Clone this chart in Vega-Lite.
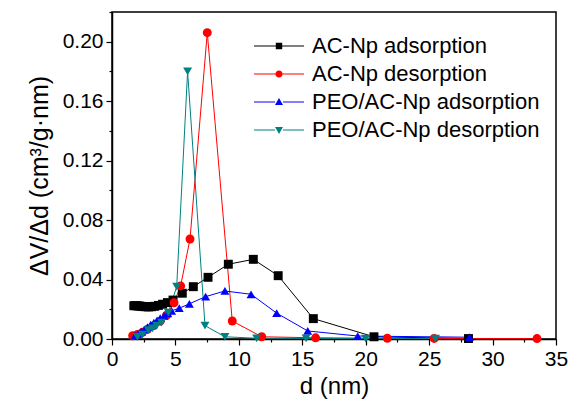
{
  "$schema": "https://vega.github.io/schema/vega-lite/v6.json",
  "width": 444,
  "height": 327,
  "autosize": "none",
  "padding": {"left": 112, "top": 12, "right": 13, "bottom": 68},
  "config": {
    "font": "Liberation Sans",
    "view": {"stroke": "#000000", "strokeWidth": 1.5},
    "axis": {"grid": false, "domainColor": "#000000", "domainWidth": 1.5, "tickColor": "#000000", "tickWidth": 1.2, "labelColor": "#000000", "titleColor": "#000000", "labelFont": "Liberation Sans", "titleFont": "Liberation Sans", "titleFontWeight": "normal"}
  },
  "data": {"values": [
    {"series": "AC-Np adsorption", "d": 1.72, "v": 0.0224},
    {"series": "AC-Np adsorption", "d": 1.86, "v": 0.0224},
    {"series": "AC-Np adsorption", "d": 2.0, "v": 0.0223},
    {"series": "AC-Np adsorption", "d": 2.15, "v": 0.0222},
    {"series": "AC-Np adsorption", "d": 2.31, "v": 0.022},
    {"series": "AC-Np adsorption", "d": 2.48, "v": 0.0218},
    {"series": "AC-Np adsorption", "d": 2.67, "v": 0.0217},
    {"series": "AC-Np adsorption", "d": 2.88, "v": 0.0216},
    {"series": "AC-Np adsorption", "d": 3.11, "v": 0.0217},
    {"series": "AC-Np adsorption", "d": 3.37, "v": 0.022},
    {"series": "AC-Np adsorption", "d": 3.66, "v": 0.0226},
    {"series": "AC-Np adsorption", "d": 3.99, "v": 0.0234},
    {"series": "AC-Np adsorption", "d": 4.37, "v": 0.0245},
    {"series": "AC-Np adsorption", "d": 4.81, "v": 0.0262},
    {"series": "AC-Np adsorption", "d": 5.54, "v": 0.0308},
    {"series": "AC-Np adsorption", "d": 6.41, "v": 0.0352},
    {"series": "AC-Np adsorption", "d": 7.57, "v": 0.0415},
    {"series": "AC-Np adsorption", "d": 9.17, "v": 0.0503},
    {"series": "AC-Np adsorption", "d": 11.14, "v": 0.0536},
    {"series": "AC-Np adsorption", "d": 13.1, "v": 0.0426},
    {"series": "AC-Np adsorption", "d": 15.87, "v": 0.0137},
    {"series": "AC-Np adsorption", "d": 20.65, "v": 0.0015},
    {"series": "AC-Np adsorption", "d": 28.1, "v": 0.0003},
    {"series": "AC-Np desorption", "d": 1.63, "v": 0.0022},
    {"series": "AC-Np desorption", "d": 2.0, "v": 0.003},
    {"series": "AC-Np desorption", "d": 2.4, "v": 0.0045},
    {"series": "AC-Np desorption", "d": 2.8, "v": 0.0065},
    {"series": "AC-Np desorption", "d": 3.3, "v": 0.009},
    {"series": "AC-Np desorption", "d": 3.8, "v": 0.012},
    {"series": "AC-Np desorption", "d": 4.3, "v": 0.016},
    {"series": "AC-Np desorption", "d": 4.89, "v": 0.0244},
    {"series": "AC-Np desorption", "d": 5.41, "v": 0.0357},
    {"series": "AC-Np desorption", "d": 6.15, "v": 0.0673},
    {"series": "AC-Np desorption", "d": 7.51, "v": 0.2061},
    {"series": "AC-Np desorption", "d": 9.48, "v": 0.0121},
    {"series": "AC-Np desorption", "d": 11.8, "v": 0.0015},
    {"series": "AC-Np desorption", "d": 16.05, "v": 0.0008},
    {"series": "AC-Np desorption", "d": 21.7, "v": 0.0005},
    {"series": "AC-Np desorption", "d": 25.4, "v": 0.0004},
    {"series": "AC-Np desorption", "d": 33.5, "v": 0.0003},
    {"series": "PEO/AC-Np adsorption", "d": 1.81, "v": 0.0022},
    {"series": "PEO/AC-Np adsorption", "d": 2.05, "v": 0.0035},
    {"series": "PEO/AC-Np adsorption", "d": 2.3, "v": 0.005},
    {"series": "PEO/AC-Np adsorption", "d": 2.55, "v": 0.0065},
    {"series": "PEO/AC-Np adsorption", "d": 2.8, "v": 0.008},
    {"series": "PEO/AC-Np adsorption", "d": 3.05, "v": 0.0096},
    {"series": "PEO/AC-Np adsorption", "d": 3.3, "v": 0.011},
    {"series": "PEO/AC-Np adsorption", "d": 3.55, "v": 0.0125},
    {"series": "PEO/AC-Np adsorption", "d": 3.8, "v": 0.014},
    {"series": "PEO/AC-Np adsorption", "d": 4.1, "v": 0.0156},
    {"series": "PEO/AC-Np adsorption", "d": 4.4, "v": 0.0172},
    {"series": "PEO/AC-Np adsorption", "d": 4.7, "v": 0.019},
    {"series": "PEO/AC-Np adsorption", "d": 5.3, "v": 0.0207},
    {"series": "PEO/AC-Np adsorption", "d": 6.1, "v": 0.0237},
    {"series": "PEO/AC-Np adsorption", "d": 7.38, "v": 0.0285},
    {"series": "PEO/AC-Np adsorption", "d": 8.9, "v": 0.0323},
    {"series": "PEO/AC-Np adsorption", "d": 10.96, "v": 0.0301},
    {"series": "PEO/AC-Np adsorption", "d": 12.98, "v": 0.0174},
    {"series": "PEO/AC-Np adsorption", "d": 15.43, "v": 0.0054},
    {"series": "PEO/AC-Np adsorption", "d": 19.37, "v": 0.002},
    {"series": "PEO/AC-Np adsorption", "d": 28.17, "v": 0.0012},
    {"series": "PEO/AC-Np desorption", "d": 2.0, "v": 0.0015},
    {"series": "PEO/AC-Np desorption", "d": 2.4, "v": 0.003},
    {"series": "PEO/AC-Np desorption", "d": 2.86, "v": 0.006},
    {"series": "PEO/AC-Np desorption", "d": 3.2, "v": 0.0072},
    {"series": "PEO/AC-Np desorption", "d": 3.52, "v": 0.009},
    {"series": "PEO/AC-Np desorption", "d": 3.9, "v": 0.011},
    {"series": "PEO/AC-Np desorption", "d": 4.44, "v": 0.0177},
    {"series": "PEO/AC-Np desorption", "d": 5.1, "v": 0.0352},
    {"series": "PEO/AC-Np desorption", "d": 5.96, "v": 0.18},
    {"series": "PEO/AC-Np desorption", "d": 7.33, "v": 0.009},
    {"series": "PEO/AC-Np desorption", "d": 8.9, "v": 0.0015},
    {"series": "PEO/AC-Np desorption", "d": 11.4, "v": 0.0005},
    {"series": "PEO/AC-Np desorption", "d": 15.3, "v": 0.0004},
    {"series": "PEO/AC-Np desorption", "d": 20.0, "v": 0.0003},
    {"series": "PEO/AC-Np desorption", "d": 25.5, "v": 0.0003}
  ]},
  "encoding": {
    "x": {"field": "d", "type": "quantitative", "scale": {"domain": [0, 35], "nice": false, "zero": false},
      "axis": {"title": "d (nm)", "titleFontSize": 24, "titlePadding": 5, "labelFontSize": 21, "labelPadding": 3, "tickSize": {"condition": {"test": "datum.value % 5 !== 0", "value": 3}, "value": 6}, "values": [0, 2.5, 5, 7.5, 10, 12.5, 15, 17.5, 20, 22.5, 25, 27.5, 30, 32.5, 35], "labelExpr": "datum.value % 5 === 0 ? datum.label : ''", "labelFlush": false}},
    "y": {"field": "v", "type": "quantitative", "scale": {"domain": [0, 0.22], "nice": false},
      "axis": {"title": "ΔV/Δd (cm³/g·nm)", "titleFontSize": 25, "titlePadding": 10, "labelFontSize": 21, "labelPadding": 3, "tickSize": {"condition": {"test": "round(datum.value*100) % 4 !== 0", "value": 3}, "value": 6}, "values": [0, 0.02, 0.04, 0.06, 0.08, 0.1, 0.12, 0.14, 0.16, 0.18, 0.2, 0.22], "labelExpr": "round(datum.value*100) % 4 === 0 ? format(datum.value, '.2f') : ''"}}
  },
  "resolve": {"scale": {"color": "independent", "shape": "independent"}},
  "layer": [
    {"mark": {"type": "line", "strokeWidth": 1},
      "encoding": {
        "color": {"field": "series", "type": "nominal", "legend": null,
          "scale": {"domain": ["AC-Np adsorption", "AC-Np desorption", "PEO/AC-Np adsorption", "PEO/AC-Np desorption"], "range": ["#000000", "#ff0000", "#0000ff", "#008080"]}}
      }},
    {"mark": {"type": "point", "filled": true, "opacity": 1, "size": 80},
      "encoding": {
        "color": {"field": "series", "type": "nominal", "legend": null,
          "scale": {"domain": ["AC-Np adsorption", "AC-Np desorption", "PEO/AC-Np adsorption", "PEO/AC-Np desorption"], "range": ["#000000", "#ff0000", "#0000ff", "#008080"]}},
        "shape": {"field": "series", "type": "nominal", "legend": null,
          "scale": {"domain": ["AC-Np adsorption", "AC-Np desorption", "PEO/AC-Np adsorption", "PEO/AC-Np desorption"], "range": ["square", "circle", "triangle-up", "triangle-down"]}}
      }},
    {"transform": [{"filter": "datum.d < 0"}],
      "mark": {"type": "point", "filled": true, "opacity": 1, "size": 64},
      "encoding": {
        "color": {"field": "series", "type": "nominal",
          "scale": {"domain": ["AC-Np adsorption", "AC-Np desorption", "PEO/AC-Np adsorption", "PEO/AC-Np desorption"], "range": ["#000000", "#ff0000", "#0000ff", "#008080"]},
          "legend": {"title": null, "orient": "none", "legendX": 156, "legendY": 23, "padding": 0, "labelFontSize": 22, "labelFont": "Liberation Sans", "labelColor": "#000000", "labelOffset": 22, "labelLimit": 0, "rowPadding": 6, "symbolSize": 64, "symbolStrokeWidth": 0}},
        "shape": {"field": "series", "type": "nominal",
          "scale": {"domain": ["AC-Np adsorption", "AC-Np desorption", "PEO/AC-Np adsorption", "PEO/AC-Np desorption"], "range": [
            "M-6.25,-0.125H-0.8V0.125H-6.25Z M0.8,-0.125H6.25V0.125H0.8Z M-0.8,-0.8H0.8V0.8H-0.8Z",
            "M-6.25,-0.125H-0.9V0.125H-6.25Z M0.9,-0.125H6.25V0.125H0.9Z M-0.9,0A0.9,0.9 0 1,0 0.9,0A0.9,0.9 0 1,0 -0.9,0Z",
            "M-6.25,-0.125H-1V0.125H-6.25Z M1,-0.125H6.25V0.125H1Z M0,-1L1,0.75H-1Z",
            "M-6.25,-0.125H-1V0.125H-6.25Z M1,-0.125H6.25V0.125H1Z M0,1L-1,-0.75H1Z"]},
          "legend": {"title": null, "orient": "none", "legendX": 156, "legendY": 23, "padding": 0, "labelFontSize": 22, "labelFont": "Liberation Sans", "labelColor": "#000000", "labelOffset": 22, "labelLimit": 0, "rowPadding": 6, "symbolSize": 64, "symbolStrokeWidth": 0}}
      }}
  ]
}
